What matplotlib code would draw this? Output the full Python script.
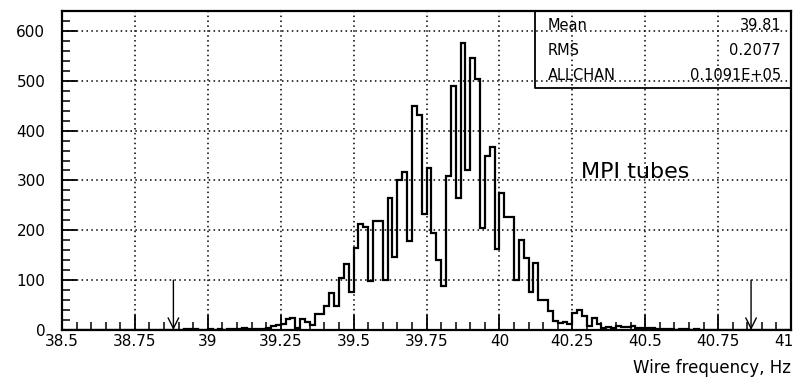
import numpy as np
import matplotlib.pyplot as plt
from matplotlib.ticker import MultipleLocator
from matplotlib.transforms import ScaledTranslation

# histogram of wire frequencies, 150 bins of 1/60 Hz from 38.5 to 41
x_lo = 38.5
x_hi = 41.0
n_bins = 150
counts = [0] * 25 + [
    1, 1, 1, 0, 0, 2, 0, 1, 0, 1,           # 25-34
    1, 2, 4, 2, 2, 2, 2, 4, 7, 10,          # 35-44
    13, 23, 25, 3, 23, 17, 11, 33, 33, 48,  # 45-54
    75, 48, 105, 132, 77, 164, 212, 206, 98, 219,    # 55-64
    219, 100, 264, 147, 300, 316, 179, 450, 431, 233,  # 65-74
    326, 194, 140, 89, 309, 490, 264, 575, 320, 545,   # 75-84
    503, 204, 350, 367, 162, 274, 226, 226, 101, 181,  # 85-94
    144, 76, 134, 60, 60, 39, 19, 15, 17, 12,          # 95-104
    35, 41, 28, 8, 25, 12, 3, 5, 3, 8,                 # 105-114
    5, 5, 8, 3, 3, 3, 3, 1, 2, 2,                      # 115-124
    1, 0, 1, 1, 0, 1,                                  # 125-130
] + [0] * 19

xticks = [38.5, 38.75, 39, 39.25, 39.5, 39.75, 40, 40.25, 40.5, 40.75, 41]
xtick_labels = ["38.5", "38.75", "39", "39.25", "39.5", "39.75", "40",
                "40.25", "40.5", "40.75", "41"]
yticks = [0, 100, 200, 300, 400, 500, 600]

# cut markers
arrow_x = [38.882, 40.863]
arrow_top = 100

stat_names = ["Mean", "RMS", "ALLCHAN"]
stat_values = ["39.81", "0.2077", "0.1091E+05"]

edges = np.linspace(x_lo, x_hi, n_bins + 1)

fig = plt.figure(figsize=(7.99, 3.89), dpi=100)
ax = fig.add_axes([0.0776, 0.1517, 0.9124, 0.82])

ax.stairs(counts, edges, color="black", lw=1.6, baseline=0)

for xa in arrow_x:
    ax.annotate("", xy=(xa, 0), xytext=(xa, arrow_top),
                arrowprops=dict(arrowstyle="->", color="black", lw=1.0,
                                mutation_scale=19, shrinkA=0, shrinkB=0))

ax.set_xlim(x_lo, x_hi)
ax.set_ylim(0, 640)
ax.set_xticks(xticks)
ax.set_xticklabels(xtick_labels)
ax.set_yticks(yticks)
ax.xaxis.set_minor_locator(MultipleLocator(0.05))
ax.yaxis.set_minor_locator(MultipleLocator(20))
ax.tick_params(which="major", direction="in", length=11, width=1.3,
               labelsize=11, top=False, right=False)
ax.tick_params(which="minor", direction="in", length=5.5, width=1.1,
               top=False, right=False)
ax.tick_params(axis="y", pad=12)
ax.tick_params(axis="x", pad=3)
ax.grid(True, which="major", color="black", linestyle=(0, (1, 2.2)), lw=1.1)
for s in ax.spines.values():
    s.set_linewidth(1.6)

# keep the last x label inside the picture
last = ax.get_xticklabels()[-1]
last.set_transform(last.get_transform()
                   + ScaledTranslation(-5 / 72, 0, fig.dpi_scale_trans))

ax.text(40.464, 317, "MPI tubes", fontsize=16, ha="center", va="center")

# statistics box in the top right corner
ax.plot([40.121, 40.121, x_hi], [640, 486, 486], color="black", lw=1.3,
        clip_on=False)
for i in range(3):
    yy = 0.955 - i * 0.078
    ax.text(40.166, 640 * yy, stat_names[i], fontsize=10.5, ha="left",
            va="center")
    ax.text(40.966, 640 * yy, stat_values[i], fontsize=10.5, ha="right",
            va="center")

fig.text(0.99, 0.03, "Wire frequency, Hz", fontsize=12, ha="right",
         va="bottom")

plt.savefig("out.png", dpi=100)
